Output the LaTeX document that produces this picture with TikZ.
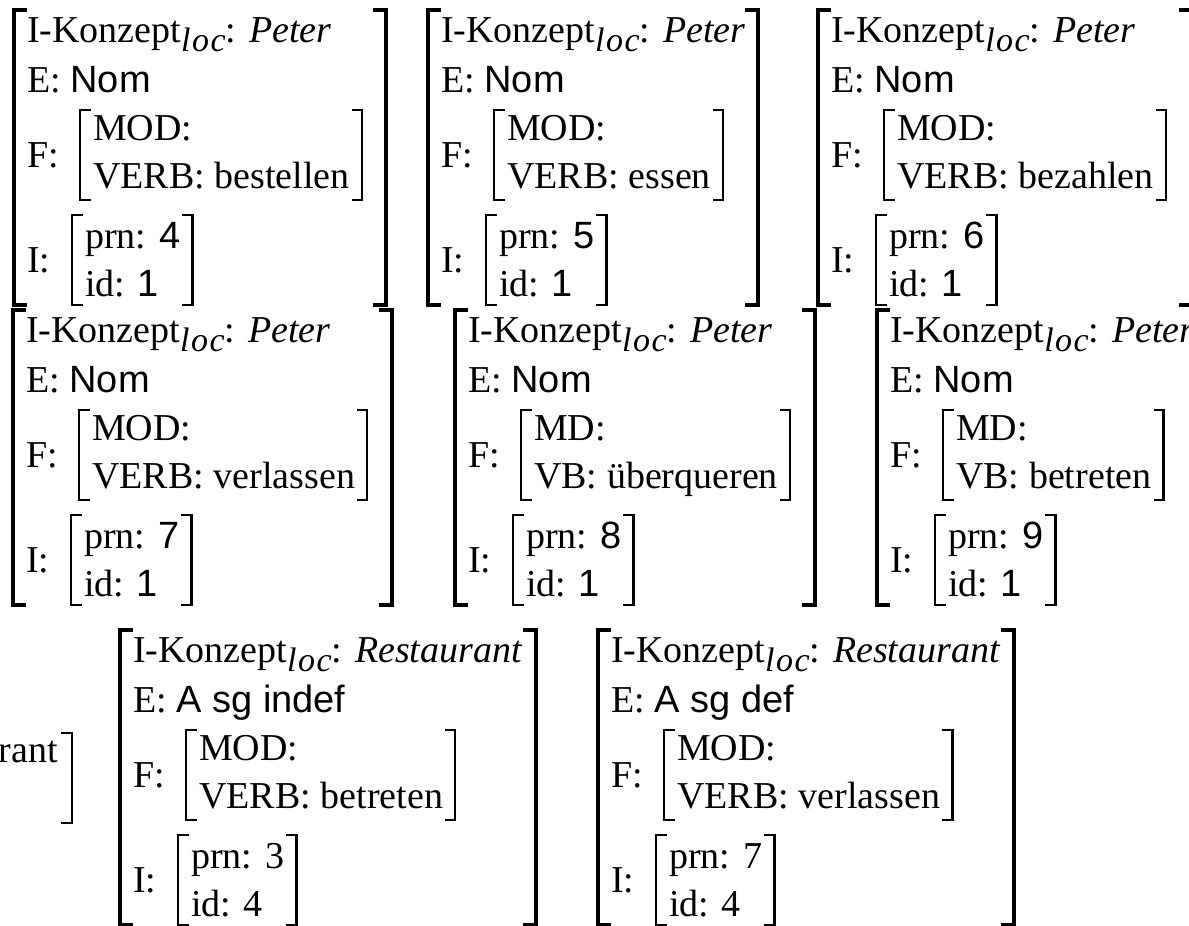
\documentclass[tikz,border=0pt]{standalone}
\usepackage{fontspec}
\setmainfont{Liberation Serif}
\setsansfont{Liberation Sans}

\newcommand{\avmfont}{\fontsize{38}{48}\selectfont}
\newcommand{\locsub}{\raisebox{-9pt}{\fontsize{34}{34}\selectfont\itshape l\kern1.5pt o\kern1.5pt c}}

% one attribute-value matrix: name, top-left corner, right bracket offset,
% concept, E value, F lines, I lines
\newcommand{\avmbox}[7]{%
  \begin{scope}[shift={#2}]
    \node[txt] (#1c) at (13,32) {I-Konzept\locsub: \textit{#4}};
    \node[txt] (#1e) at (13,82) {E: \textsf{#5}};
    \node[txt] (#1fl) at (13,157) {F:};
    \node[txt] (#1f) at (79,130) {\begin{tabular}[t]{@{}l@{}}#6\end{tabular}};
    \node[txt] (#1il) at (13,262) {I:};
    \node[txt] (#1i) at (71,238) {\begin{tabular}[t]{@{}l@{}}#7\end{tabular}};
    \draw[avmouter] (13,0) -| (0,295) -- (13,295);
    \draw[avmouter] (#3-13,0) -| (#3,295) -- (#3-13,295);
    \draw[avminner] (77,100) -| (66,190) -- (77,190);
    \draw[avminner] (#1f.east |- 0,100) ++(2,0) -- ++(10,0) -- ++(0,90) -- ++(-10,0);
    \draw[avminner] (69,205) -| (58,295) -- (69,295);
    \draw[avminner] (#1i.east |- 0,205) ++(2,0) -- ++(10,0) -- ++(0,90) -- ++(-10,0);
  \end{scope}}

\begin{document}
\begin{tikzpicture}[x=1pt, y=-1pt,
    txt/.style={anchor=base west, inner sep=0pt, font=\avmfont},
    avmouter/.style={line width=3.8pt},
    avminner/.style={line width=2.6pt}]
  \useasboundingbox (0,0) rectangle (1189,926);

  % Peter, erste Reihe
  \avmbox{pa}{(14,10)}{372}{Peter}{Nom}{MOD:\\VERB: bestellen}{prn: \textsf{4}\\id: \textsf{1}}
  \avmbox{pb}{(428,10)}{330}{Peter}{Nom}{MOD:\\VERB: essen}{prn: \textsf{5}\\id: \textsf{1}}
  \avmbox{pc}{(818,10)}{374}{Peter}{Nom}{MOD:\\VERB: bezahlen}{prn: \textsf{6}\\id: \textsf{1}}

  % Peter, zweite Reihe
  \avmbox{pd}{(13,310)}{379}{Peter}{Nom}{MOD:\\VERB: verlassen}{prn: \textsf{7}\\id: \textsf{1}}
  \avmbox{pe}{(455,310)}{360}{Peter}{Nom}{MD:\\VB: überqueren}{prn: \textsf{8}\\id: \textsf{1}}
  \avmbox{pf}{(877,310)}{335}{Peter}{Nom}{MD:\\VB: betreten}{prn: \textsf{9}\\id: \textsf{1}}

  % Restaurant
  \node[txt, anchor=base east] (rr) at (58,762) {rant};
  \draw[avminner] (61,733) -| (72,823) -- (61,823);
  \avmbox{ra}{(120,630)}{416}{Restaurant}{A sg indef}{MOD:\\VERB: betreten}{prn: 3\\id: 4}
  \avmbox{rb}{(598,630)}{416}{Restaurant}{A sg def}{MOD:\\VERB: verlassen}{prn: 7\\id: 4}
\end{tikzpicture}
\end{document}
